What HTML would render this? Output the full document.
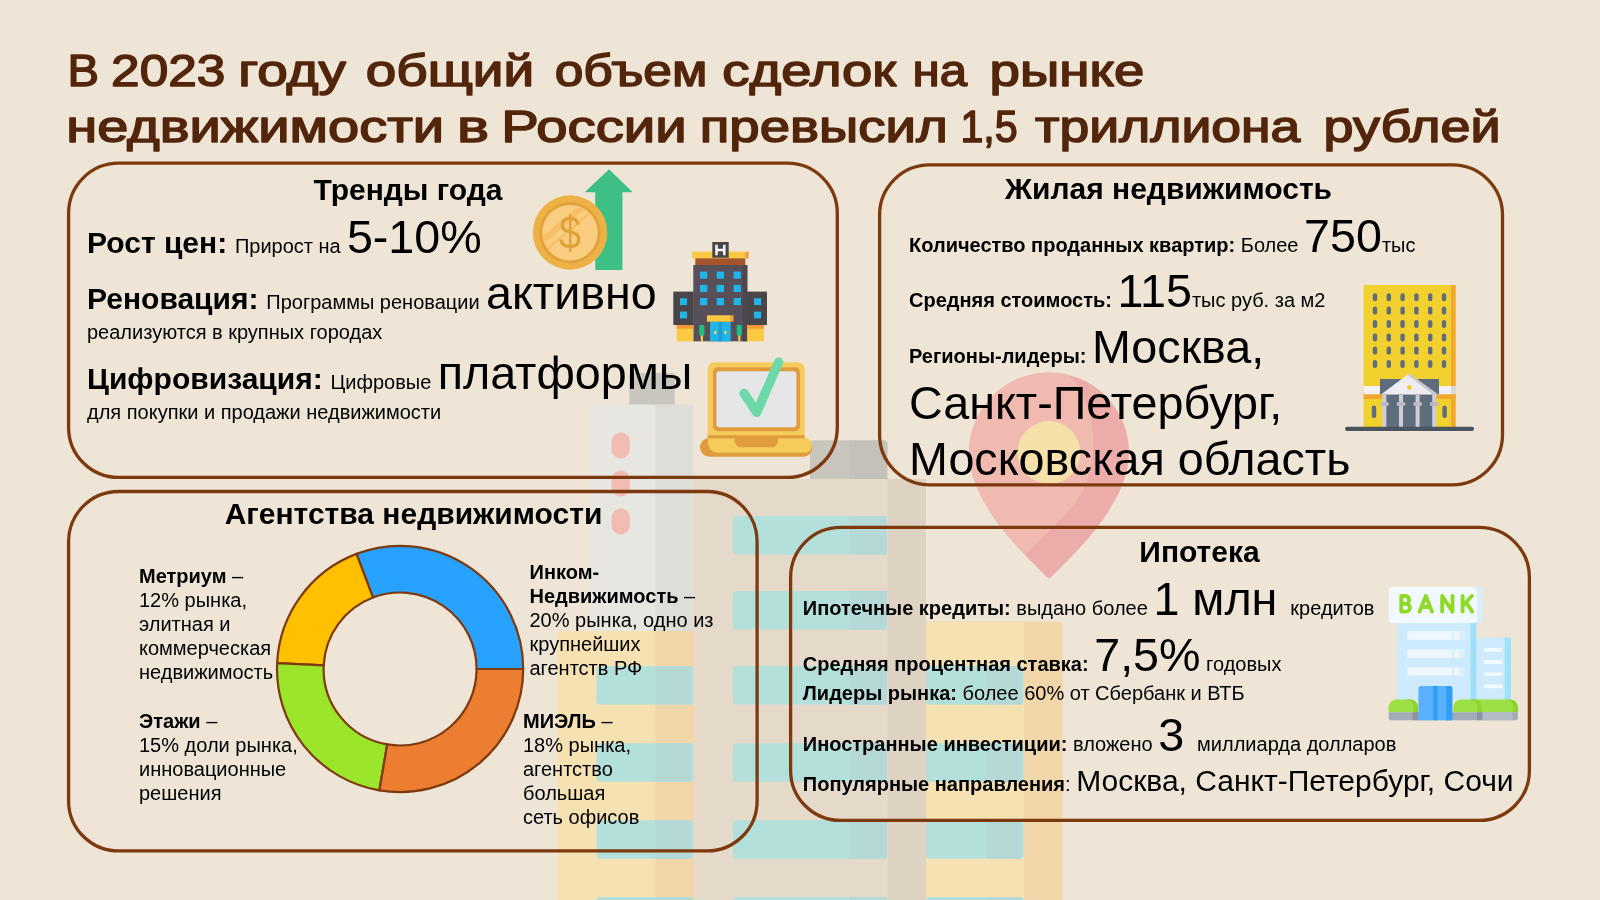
<!DOCTYPE html>
<html lang="ru">
<head>
<meta charset="utf-8">
<title>Рынок недвижимости 2023</title>
<style>
  html, body { margin: 0; padding: 0; }
  body { width: 1600px; height: 900px; overflow: hidden; background: #EEE5D6; font-family: "Liberation Sans", sans-serif; }
  #stage { position: relative; width: 1600px; height: 900px; overflow: hidden; background: #EEE5D6; }
  svg { position: absolute; left: 0; top: 0; will-change: transform; }
  svg text { font-family: "Liberation Sans", sans-serif; fill: #000; white-space: pre; }
  .ttl { font-weight: normal; font-size: 45.0px; fill: #53260C; stroke: #53260C; stroke-width: 1.5; stroke-linejoin: round; }
  .h { font-weight: bold; font-size: 30px; }
  .b28 { font-weight: bold; font-size: 30px; }
  .b19 { font-weight: bold; font-size: 20px; }
  .r19 { font-size: 20px; }
  .r46 { font-size: 46.67px; }
  .r28 { font-size: 30px; }
  .b20 { font-weight: bold; font-size: 20px; }
  .r20 { font-size: 20px; }
  .box { fill: none; stroke: #7E3A0F; stroke-width: 3.3; }
</style>
</head>
<body>
<div id="stage">
<svg id="art" width="1600" height="900" viewBox="0 0 1600 900">

<!-- ===== faded background illustration ===== -->
<g id="bg-illustration">
  <!-- left grey tower -->
  <rect x="629.3" y="373" width="45.4" height="34" rx="1.5" fill="#C9C6BE"/>
  <rect x="590.4" y="404.6" width="66" height="300" rx="3" fill="#E7E6E0"/>
  <path d="M655.3 404.6 H690 Q693.4 404.6 693.4 408 V705 H655.3 Z" fill="#DEDED8"/>
  <rect x="611.5" y="432.5" width="18.5" height="26" rx="9.25" fill="#F1BCB2"/>
  <rect x="611.5" y="470.5" width="18.5" height="26" rx="9.25" fill="#F1BCB2"/>
  <rect x="611.5" y="508.5" width="18.5" height="26" rx="9.25" fill="#F1BCB2"/>
  <!-- central building -->
  <path d="M810 480 V443.5 Q810 440.3 813.2 440.3 H849.2 V480 Z" fill="#C9C6BE"/>
  <path d="M849 440.3 H884.3 Q887.5 440.3 887.5 443.5 V480 H849 Z" fill="#C3C1B9"/>
  <rect x="693.5" y="479" width="194" height="421" fill="#E5D9CA"/>
  <rect x="887.4" y="479" width="38.6" height="421" fill="#DED2C3"/>
  <g fill="#B4E0DC">
    <rect x="733" y="516" width="154" height="38.5" rx="3.5"/>
    <rect x="733" y="591" width="154" height="38.5" rx="3.5"/>
    <rect x="733" y="666" width="154" height="38.5" rx="3.5"/>
    <rect x="733" y="743.3" width="154" height="38.5" rx="3.5"/>
    <rect x="733" y="820.3" width="154" height="38.5" rx="3.5"/>
    <rect x="733" y="897" width="154" height="38.5" rx="3.5"/>
  </g>
  <g fill="#B5D9D6">
    <rect x="849" y="516" width="38" height="38.5"/>
    <rect x="849" y="591" width="38" height="38.5"/>
    <rect x="849" y="666" width="38" height="38.5"/>
    <rect x="849" y="743.3" width="38" height="38.5"/>
    <rect x="849" y="820.3" width="38" height="38.5"/>
    <rect x="849" y="897" width="38" height="38.5"/>
  </g>
  <!-- left yellow building -->
  <rect x="557.5" y="631" width="98.5" height="269" fill="#F5E1B1"/>
  <rect x="655.5" y="631" width="38.5" height="269" fill="#F1D6A9"/>
  <g fill="#B4E0DC">
    <rect x="596.5" y="666" width="97" height="38.5" rx="3.5"/>
    <rect x="596.5" y="743.3" width="97" height="38.5" rx="3.5"/>
    <rect x="596.5" y="820.3" width="97" height="38.5" rx="3.5"/>
    <rect x="596.5" y="897" width="97" height="38.5" rx="3.5"/>
  </g>
  <g fill="#B5D9D6">
    <rect x="655.5" y="666" width="36" height="38.5"/>
    <rect x="655.5" y="743.3" width="36" height="38.5"/>
    <rect x="655.5" y="820.3" width="36" height="38.5"/>
    <rect x="655.5" y="897" width="36" height="38.5"/>
  </g>
  <!-- right yellow building -->
  <path d="M926 621.5 H1058 Q1062.5 621.5 1062.5 626 V900 H926 Z" fill="#F1D6A9"/>
  <rect x="926" y="621.5" width="98" height="279" fill="#F5E1B1"/>
  <g fill="#B4E0DC">
    <rect x="926" y="666" width="97.5" height="38.5" rx="3.5"/>
    <rect x="926" y="743.3" width="97.5" height="38.5" rx="3.5"/>
    <rect x="926" y="820.3" width="97.5" height="38.5" rx="3.5"/>
    <rect x="926" y="897" width="97.5" height="38.5" rx="3.5"/>
  </g>
  <g fill="#B5D9D6">
    <rect x="986" y="666" width="35" height="38.5"/>
    <rect x="986" y="743.3" width="35" height="38.5"/>
    <rect x="986" y="820.3" width="35" height="38.5"/>
    <rect x="986" y="897" width="35" height="38.5"/>
  </g>
  <!-- location pin -->
  <clipPath id="pinclip"><path d="M1049 579 C1030 560 969 505 969 452.5 A80 80 0 0 1 1129 452.5 C1129 505 1068 560 1049 579 Z"/></clipPath>
  <path id="pinshape" d="M1049 577 C1031 559 970.5 505 970.5 452.5 A78.5 78.5 0 0 1 1127.5 452.5 C1127.5 505 1067 559 1049 577 Z" fill="#ECACA9" stroke="#ECACA9" stroke-width="3" stroke-linejoin="round"/>
  <g clip-path="url(#pinclip)">
    <path d="M1066 372 C1086 392 1093.5 420 1093.3 440 C1093 460 1090 475 1085.3 485.3 C1078 502 1066 514 1060 520 L1016 564 L900 564 L900 300 L1066 300 Z" fill="#F1BAB1"/>
  </g>
  <circle cx="1049" cy="452.5" r="31.5" fill="#F5E0A9"/>
</g>

<!-- ===== boxes ===== -->
<rect class="box" x="68.6" y="163.2" width="768.7" height="314.2" rx="50" ry="50"/>
<rect class="box" x="879.6" y="164.9" width="622.9" height="319.9" rx="50" ry="50"/>
<rect class="box" x="68.6" y="491.5" width="688.5" height="359.4" rx="50" ry="50"/>
<rect class="box" x="790.6" y="527.4" width="738.8" height="293" rx="50" ry="50"/>

<!-- ===== icon: coin + arrow ===== -->
<g id="icon-coin">
  <path d="M609 169.3 L632.7 192.3 H622.4 V270 H595.3 V192.3 H584.7 Z" fill="#3DBF86"/>
  <circle cx="570.1" cy="232.5" r="37.2" fill="#EDB145"/>
  <circle cx="570" cy="232.7" r="30.5" fill="#E2A23B"/>
  <circle cx="570" cy="232.7" r="27.8" fill="#FBCD80"/>
  <clipPath id="coinclip"><circle cx="570" cy="232.7" r="27.8"/></clipPath>
  <g clip-path="url(#coinclip)">
    <g transform="rotate(-40 570 232.7)" fill="#F6C067">
      <rect x="530" y="217.8" width="80" height="6.6"/>
      <rect x="530" y="229.2" width="80" height="2.6"/>
    </g>
  </g>
  <text transform="translate(570 248.8) scale(0.86 1)" x="0" y="0" text-anchor="middle" style="font-size:46px; fill:#E2A23B; font-family:'Liberation Sans',sans-serif;">$</text>
</g>

<!-- ===== icon: hotel ===== -->
<g id="icon-hotel" transform="translate(660 230)">
  <rect x="32" y="21.6" width="53.5" height="6.8" fill="#FBC944"/>
  <rect x="85.3" y="21.6" width="3.4" height="6.8" fill="#F59A3A"/>
  <rect x="35.3" y="28.3" width="50" height="6.9" fill="#A5532A"/>
  <rect x="13.3" y="61.6" width="20.5" height="33.4" fill="#4A4549"/>
  <rect x="87" y="61.6" width="20" height="33.4" fill="#4A4549"/>
  <rect x="33.3" y="35" width="54" height="76.3" fill="#57505A"/>
  <rect x="82.7" y="35" width="4.6" height="76.3" fill="#4D474F"/>
  <rect x="52.3" y="12" width="16.4" height="15.7" fill="#4A4549"/>
  <path d="M56.5 14.8 V25.2 M64.3 14.8 V25.2 M56.5 20 H64.3" stroke="#FFFFFF" stroke-width="2.4" fill="none"/>
  <g fill="#1FB5E8">
    <rect x="40" y="41.6" width="7.3" height="7.1"/><rect x="56.7" y="41.6" width="7.3" height="7.1"/><rect x="73.6" y="41.6" width="7.3" height="7.1"/>
    <rect x="40" y="54.9" width="7.3" height="7.1"/><rect x="56.7" y="54.9" width="7.3" height="7.1"/><rect x="73.6" y="54.9" width="7.3" height="7.1"/>
    <rect x="40" y="68" width="7.3" height="7.1"/><rect x="56.7" y="68" width="7.3" height="7.1"/><rect x="73.6" y="68" width="7.3" height="7.1"/>
    <rect x="20" y="68.3" width="7.1" height="6.8"/><rect x="20" y="81.6" width="7.1" height="6.8"/>
    <rect x="94" y="68.3" width="7.1" height="6.8"/><rect x="94" y="81.6" width="7.1" height="6.8"/>
  </g>
  <rect x="16.7" y="95" width="16.6" height="16.3" fill="#FBC944"/>
  <rect x="16.7" y="95" width="16.6" height="3.7" fill="#F59A3A"/>
  <rect x="87.3" y="95" width="16.7" height="16.3" fill="#FBC944"/>
  <rect x="87.3" y="95" width="16.7" height="3.7" fill="#F59A3A"/>
  <rect x="50" y="91.7" width="20.7" height="19.6" fill="#1FB5E8"/>
  <rect x="58.5" y="91.7" width="3.6" height="19.6" fill="#1A9EDB"/>
  <ellipse cx="55.4" cy="102.4" rx="1.3" ry="1.9" fill="#F5D04A"/>
  <ellipse cx="65.4" cy="102.4" rx="1.3" ry="1.9" fill="#F5D04A"/>
  <rect x="47" y="85.3" width="24" height="6.4" fill="#FBC944"/>
  <rect x="70.4" y="85.3" width="3.2" height="6.4" fill="#F59A3A"/>
  <rect x="40.8" y="105" width="2.2" height="6.3" fill="#FBC944"/>
  <rect x="78.2" y="105" width="2.2" height="6.3" fill="#FBC944"/>
  <rect x="39.3" y="95" width="5.1" height="10.4" rx="1" fill="#1FBF7F"/>
  <rect x="76.7" y="95" width="5.1" height="10.4" rx="1" fill="#1FBF7F"/>
</g>

<!-- ===== icon: laptop ===== -->
<g id="icon-laptop" transform="translate(690 350)">
  <rect x="17.7" y="12.3" width="97" height="80" rx="7" fill="#F5CB5C"/>
  <rect x="23" y="17.3" width="87" height="64" rx="5" fill="#E09B3D"/>
  <rect x="26.4" y="21.3" width="80" height="56" rx="3" fill="#E6E6E8"/>
  <rect x="10" y="88" width="112.4" height="18.7" rx="9.3" fill="#E09B3D"/>
  <path d="M18 88 H114.9 A7.4 7.4 0 0 1 114.9 102.8 H28 A10 10 0 0 1 18 92.8 Z" fill="#F5CB5C"/>
  <rect x="17.7" y="85.3" width="97" height="3" fill="#E09B3D"/>
  <path d="M44.7 88 H88 V91 A6.3 6.3 0 0 1 81.7 97.3 H51 A6.3 6.3 0 0 1 44.7 91 Z" fill="#E09B3D"/>
  <path d="M54 43.3 L66.7 62.4 L88.7 12" fill="none" stroke="#6DD8A8" stroke-width="9.3" stroke-linecap="round" stroke-linejoin="round"/>
</g>

<!-- ===== icon: yellow office building ===== -->
<g id="icon-office" transform="translate(1330 270)">
  <rect x="33.6" y="15" width="92" height="142.5" fill="#F2D02E"/>
  <rect x="121" y="15" width="4.6" height="142.5" fill="#F0A830"/>
  <g fill="#5D6D7E">
    <rect x="42.8" y="23.2" width="4.4" height="8" rx="2.2"/><rect x="56.6" y="23.2" width="4.4" height="8" rx="2.2"/><rect x="70.4" y="23.2" width="4.4" height="8" rx="2.2"/><rect x="84.2" y="23.2" width="4.4" height="8" rx="2.2"/><rect x="98" y="23.2" width="4.4" height="8" rx="2.2"/><rect x="111.8" y="23.2" width="4.4" height="8" rx="2.2"/>
    <rect x="42.8" y="36.6" width="4.4" height="8" rx="2.2"/><rect x="56.6" y="36.6" width="4.4" height="8" rx="2.2"/><rect x="70.4" y="36.6" width="4.4" height="8" rx="2.2"/><rect x="84.2" y="36.6" width="4.4" height="8" rx="2.2"/><rect x="98" y="36.6" width="4.4" height="8" rx="2.2"/><rect x="111.8" y="36.6" width="4.4" height="8" rx="2.2"/>
    <rect x="42.8" y="50.0" width="4.4" height="8" rx="2.2"/><rect x="56.6" y="50.0" width="4.4" height="8" rx="2.2"/><rect x="70.4" y="50.0" width="4.4" height="8" rx="2.2"/><rect x="84.2" y="50.0" width="4.4" height="8" rx="2.2"/><rect x="98" y="50.0" width="4.4" height="8" rx="2.2"/><rect x="111.8" y="50.0" width="4.4" height="8" rx="2.2"/>
    <rect x="42.8" y="63.4" width="4.4" height="8" rx="2.2"/><rect x="56.6" y="63.4" width="4.4" height="8" rx="2.2"/><rect x="70.4" y="63.4" width="4.4" height="8" rx="2.2"/><rect x="84.2" y="63.4" width="4.4" height="8" rx="2.2"/><rect x="98" y="63.4" width="4.4" height="8" rx="2.2"/><rect x="111.8" y="63.4" width="4.4" height="8" rx="2.2"/>
    <rect x="42.8" y="76.6" width="4.4" height="8" rx="2.2"/><rect x="56.6" y="76.6" width="4.4" height="8" rx="2.2"/><rect x="70.4" y="76.6" width="4.4" height="8" rx="2.2"/><rect x="84.2" y="76.6" width="4.4" height="8" rx="2.2"/><rect x="98" y="76.6" width="4.4" height="8" rx="2.2"/><rect x="111.8" y="76.6" width="4.4" height="8" rx="2.2"/>
    <rect x="42.8" y="90.0" width="4.4" height="8" rx="2.2"/><rect x="56.6" y="90.0" width="4.4" height="8" rx="2.2"/><rect x="70.4" y="90.0" width="4.4" height="8" rx="2.2"/><rect x="84.2" y="90.0" width="4.4" height="8" rx="2.2"/><rect x="98" y="90.0" width="4.4" height="8" rx="2.2"/><rect x="111.8" y="90.0" width="4.4" height="8" rx="2.2"/>
    <rect x="41.8" y="135.5" width="4.4" height="12.5" rx="2.2"/><rect x="112.4" y="135.5" width="4.4" height="12.5" rx="2.2"/>
  </g>
  <rect x="33.6" y="116" width="92" height="8.4" fill="#F1F0F5"/>
  <rect x="121" y="116" width="4.6" height="8.4" fill="#D9D6DF"/>
  <rect x="33.6" y="124.4" width="92" height="4.6" fill="#F0A830"/>
  <rect x="50" y="109" width="59" height="15.4" fill="#5D6D7E"/>
  <rect x="53" y="124.4" width="53" height="33" fill="#5D6D7E"/>
  <path d="M79 103.6 L108 124.4 H51 Z" fill="#EDEDF2"/>
  <path d="M79 103.6 L108 124.4 H103 L77.5 104.8 Z" fill="#C9C6D0"/>
  <circle cx="79.4" cy="117.4" r="2.3" fill="#F2D02E"/>
  <g fill="#D0CDD6">
    <rect x="52.4" y="125" width="4" height="32.5"/><rect x="69" y="125" width="4" height="32.5"/><rect x="85.6" y="125" width="4" height="32.5"/><rect x="102.2" y="125" width="4" height="32.5"/>
  </g>
  <g fill="#BDB9C4">
    <rect x="50" y="132" width="9" height="4" rx="2"/><rect x="66.5" y="132" width="9" height="4" rx="2"/><rect x="83.1" y="132" width="9" height="4" rx="2"/><rect x="99.7" y="132" width="9" height="4" rx="2"/>
  </g>
  <rect x="15" y="156.8" width="129" height="4.2" rx="2.1" fill="#4A5560"/>
</g>

<!-- ===== icon: bank ===== -->
<g id="icon-bank" transform="translate(1370 570)">
  <rect x="106.3" y="67.6" width="34.5" height="62.4" rx="2" fill="#CDEBFB"/>
  <path d="M134.8 67.6 H138.8 Q140.8 67.6 140.8 69.6 V130 H134.8 Z" fill="#9FE0FB"/>
  <g fill="#F3FAFE">
    <rect x="113.8" y="77.9" width="18.6" height="3.9" rx="1.5"/><rect x="113.8" y="90.1" width="18.6" height="3.9" rx="1.5"/><rect x="113.8" y="102.2" width="18.6" height="3.9" rx="1.5"/><rect x="113.8" y="114.3" width="18.6" height="3.9" rx="1.5"/>
  </g>
  <rect x="26.7" y="50" width="79.6" height="80" fill="#CDEBFB"/>
  <rect x="100.4" y="50" width="5.9" height="80" fill="#9FE0FB"/>
  <g fill="#EEF7FD">
    <rect x="37.3" y="61.3" width="57" height="8.4" rx="1"/><rect x="37.3" y="79.5" width="57" height="8.4" rx="1"/><rect x="37.3" y="97.2" width="57" height="8.4" rx="1"/>
  </g>
  <g fill="#DDF0FB">
    <rect x="81.5" y="61.3" width="3" height="8.4"/><rect x="81.5" y="79.5" width="3" height="8.4"/><rect x="81.5" y="97.2" width="3" height="8.4"/>
    <rect x="89" y="61.3" width="5.3" height="8.4"/><rect x="89" y="79.5" width="5.3" height="8.4"/><rect x="89" y="97.2" width="5.3" height="8.4"/>
  </g>
  <rect x="18.7" y="16.9" width="94.2" height="36.1" rx="4" fill="#D9EEFB"/>
  <rect x="18.7" y="16.9" width="88.5" height="36.1" rx="4" fill="#F2F9FE"/>
  <g fill="none" stroke="#8FD927" stroke-width="3.9" stroke-linecap="round" stroke-linejoin="round">
    <path d="M31.3 26 V41.6 H36 A3.9 3.9 0 0 0 36 33.8 H31.3 M35.3 33.8 A3.9 3.9 0 0 0 35.3 26 H31.3"/>
    <path d="M49.6 41.6 L55.8 26 L62 41.6 M52 37 H59.6"/>
    <path d="M72.2 41.6 V26 L82.5 41.6 V26"/>
    <path d="M92.6 26 V41.6 M101.8 26 L92.6 36 M96.3 32.6 L102.2 41.6"/>
  </g>
  <path d="M18.7 142.4 V137 A8 7.6 0 0 1 26.7 129.4 H40 A8 7.6 0 0 1 48 137 V142.4 Z" fill="#9CE045"/>
  <path d="M36 129.4 H40 A8 7.6 0 0 1 48 137 V142.4 H43.5 V137 A8 7.6 0 0 0 36 129.4 Z" fill="#8BD42F"/>
  <path d="M83.2 142.4 V137 A8 7.6 0 0 1 91.2 129.4 H140 A8 7.6 0 0 1 147.9 137 V142.4 Z" fill="#9CE045"/>
  <path d="M100 129.4 H104 A8 7.6 0 0 1 112 137 V142.4 H107.5 V137 A8 7.6 0 0 0 100 129.4 Z" fill="#8BD42F"/>
  <path d="M136 129.4 H140 A8 7.6 0 0 1 147.9 137 V142.4 H143.5 V137 A8 7.6 0 0 0 136 129.4 Z" fill="#8BD42F"/>
  <path d="M18.7 142.2 H147.9 V148.2 Q147.9 150.2 145.9 150.2 H20.7 Q18.7 150.2 18.7 148.2 Z" fill="#A3ABB8"/>
  <rect x="42.5" y="142.2" width="6" height="8" fill="#8C94A3"/>
  <rect x="107" y="142.2" width="5.5" height="8" fill="#8C94A3"/>
  <rect x="112.5" y="142.2" width="30" height="8" fill="#B2BAC6"/>
  <path d="M48.4 150.2 V118.4 Q48.4 115.9 50.9 115.9 H79.8 Q82.3 115.9 82.3 118.4 V150.2 Z" fill="#5BB0FB"/>
  <rect x="63.1" y="115.9" width="4.5" height="34.3" fill="#2E9FF5"/>
  <path d="M76.4 115.9 H79.8 Q82.3 115.9 82.3 118.4 V150.2 H76.4 Z" fill="#2E9FF5"/>
</g>


<!-- ===== donut chart ===== -->
<g id="donut" stroke="#7E3A0F" stroke-width="2.2" stroke-linejoin="round">
  <path d="M523.20 669.00 A123.1 123.1 0 0 0 356.45 553.90 L372.97 597.47 A76.5 76.5 0 0 1 476.60 669.00 Z" fill="#27A2FF"/>
  <path d="M356.45 553.90 A123.1 123.1 0 0 0 277.14 663.05 L323.69 665.30 A76.5 76.5 0 0 1 372.97 597.47 Z" fill="#FFC000"/>
  <path d="M277.14 663.05 A123.1 123.1 0 0 0 379.38 790.34 L387.22 744.41 A76.5 76.5 0 0 1 323.69 665.30 Z" fill="#9BE52B"/>
  <path d="M379.38 790.34 A123.1 123.1 0 0 0 523.20 669.00 L476.60 669.00 A76.5 76.5 0 0 1 387.22 744.41 Z" fill="#ED7D31"/>
</g>

<!-- ===== text ===== -->
<g id="text-layer">
  <!-- title -->
  <text class="ttl" transform="translate(67.6 85.6) scale(1.049 1)">В</text>
  <text class="ttl" transform="translate(111.1 85.6) scale(1.141 1)">2023</text>
  <text class="ttl" transform="translate(238.3 85.6) scale(1.221 1)">году</text>
  <text class="ttl" transform="translate(365.7 85.6) scale(1.220 1)">общий</text>
  <text class="ttl" transform="translate(554.7 85.6) scale(1.145 1)">объем</text>
  <text class="ttl" transform="translate(722.2 85.6) scale(1.210 1)">сделок</text>
  <text class="ttl" transform="translate(912.5 85.6) scale(1.094 1)">на</text>
  <text class="ttl" transform="translate(989.5 85.6) scale(1.215 1)">рынке</text>
  <text class="ttl" transform="translate(66.2 142.0) scale(1.245 1)">недвижимости</text>
  <text class="ttl" transform="translate(457.0 142.0) scale(1.341 1)">в</text>
  <text class="ttl" transform="translate(501.2 142.0) scale(1.251 1)">России</text>
  <text class="ttl" transform="translate(699.8 142.0) scale(1.213 1)">превысил</text>
  <text class="ttl" transform="translate(960.4 142.0) scale(0.916 1)">1,5</text>
  <text class="ttl" transform="translate(1034.9 142.0) scale(1.189 1)">триллиона</text>
  <text class="ttl" transform="translate(1323.5 142.0) scale(1.199 1)">рублей</text>

  <!-- box 1 -->
  <text id="h1" class="h" x="408" y="200" text-anchor="middle">Тренды года</text>
  <text id="a1" x="87" y="252.8"><tspan class="b28">Рост цен:</tspan><tspan class="r19" dx="2.2"> Прирост на </tspan><tspan class="r46" dx="0.6">5-10%</tspan></text>
  <text id="a2" x="87" y="308.8"><tspan class="b28">Реновация:</tspan><tspan class="r19" dx="2.2"> Программы реновации </tspan><tspan class="r46" dx="0.8">активно</tspan></text>
  <text id="a3" class="r19" x="87" y="338.5">реализуются в крупных городах</text>
  <text id="a4" x="87" y="388.6"><tspan class="b28">Цифровизация:</tspan><tspan class="r19" dx="2.2"> Цифровые </tspan><tspan class="r46" dx="0.8">платформы</tspan></text>
  <text id="a5" class="r19" x="87" y="419">для покупки и продажи недвижимости</text>

  <!-- box 2 -->
  <text id="h2" class="h" x="1168.5" y="199" text-anchor="middle">Жилая недвижимость</text>
  <text id="b1" x="909" y="251.5"><tspan class="b19">Количество проданных квартир:</tspan><tspan class="r19"> Более </tspan><tspan class="r46">750</tspan><tspan class="r19">тыс</tspan></text>
  <text id="b2" x="909" y="307"><tspan class="b19">Средняя стоимость:</tspan><tspan class="r19"> </tspan><tspan class="r46">115</tspan><tspan class="r19">тыс руб. за м2</tspan></text>
  <text id="b3" x="909" y="362.5"><tspan class="b19">Регионы-лидеры:</tspan><tspan class="r19"> </tspan><tspan class="r46">Москва,</tspan></text>
  <text id="b4" class="r46" x="909" y="418.5">Санкт-Петербург,</text>
  <text id="b5" class="r46" x="909" y="474.5">Московская область</text>

  <!-- box 3 -->
  <text id="h3" class="h" x="413.5" y="524" text-anchor="middle">Агентства недвижимости</text>
  <g class="r20">
    <text x="139" y="583.3"><tspan class="b20">Метриум</tspan> –</text>
    <text x="139" y="607.3">12% рынка,</text>
    <text x="139" y="631.3">элитная и</text>
    <text x="139" y="655.3">коммерческая</text>
    <text x="139" y="679.3">недвижимость</text>
    <text x="139" y="727.6"><tspan class="b20">Этажи</tspan> –</text>
    <text x="139" y="751.6">15% доли рынка,</text>
    <text x="139" y="775.6">инновационные</text>
    <text x="139" y="799.6">решения</text>
    <text x="529.5" y="579" class="b20">Инком-</text>
    <text x="529.5" y="603"><tspan class="b20">Недвижимость</tspan> –</text>
    <text x="529.5" y="627">20% рынка, одно из</text>
    <text x="529.5" y="651">крупнейших</text>
    <text x="529.5" y="675">агентств РФ</text>
    <text x="523" y="728"><tspan class="b20">МИЭЛЬ</tspan> –</text>
    <text x="523" y="752">18% рынка,</text>
    <text x="523" y="776">агентство</text>
    <text x="523" y="800">большая</text>
    <text x="523" y="824">сеть офисов</text>
  </g>

  <!-- box 4 -->
  <text id="h4" class="h" x="1199.5" y="561.5" text-anchor="middle">Ипотека</text>
  <text id="c1" x="802.8" y="614.5"><tspan class="b19">Ипотечные кредиты:</tspan><tspan class="r19"> выдано более </tspan><tspan class="r46">1 млн </tspan><tspan class="r19">кредитов</tspan></text>
  <text id="c2" x="802.8" y="670.5"><tspan class="b19">Средняя процентная ставка:</tspan><tspan class="r19"> </tspan><tspan class="r46">7,5%</tspan><tspan class="r19"> годовых</tspan></text>
  <text id="c3" x="802.8" y="700"><tspan class="b19">Лидеры рынка:</tspan><tspan class="r19"> более 60% от Сбербанк и ВТБ</tspan></text>
  <text id="c4" x="802.8" y="750.5"><tspan class="b19">Иностранные инвестиции:</tspan><tspan class="r19"> вложено </tspan><tspan class="r46">3 </tspan><tspan class="r19">миллиарда долларов</tspan></text>
  <text id="c5" x="802.8" y="790.5"><tspan class="b19">Популярные направления</tspan><tspan class="r19">: </tspan><tspan class="r28">Москва, Санкт-Петербург, Сочи</tspan></text>
</g>


</svg>
</div>
</body>
</html>
